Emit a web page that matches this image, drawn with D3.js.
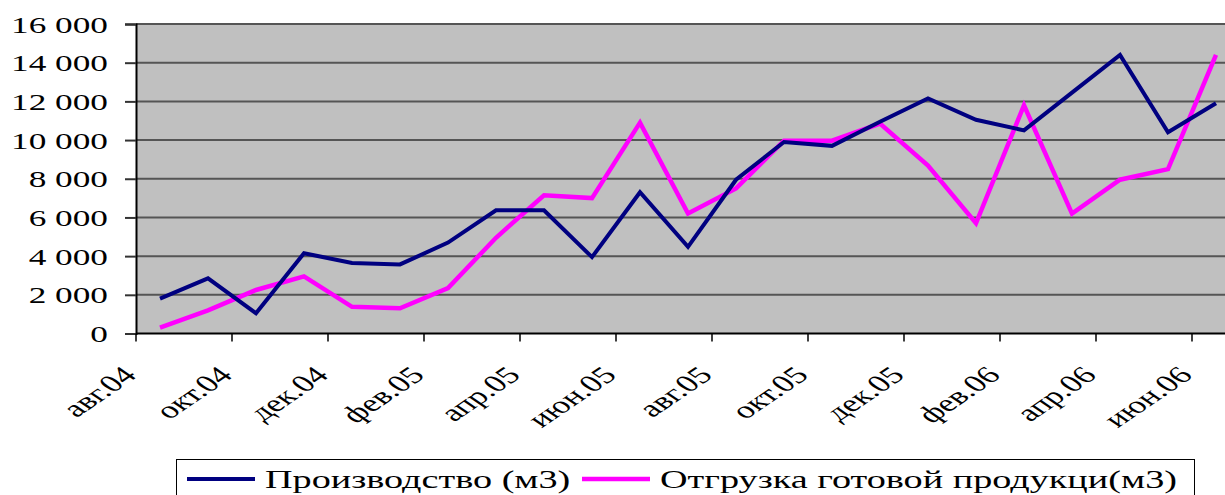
<!DOCTYPE html>
<html><head><meta charset="utf-8">
<script src="https://cdn.jsdelivr.net/npm/d3@7"></script>
<style>
html,body{margin:0;padding:0;background:#fff;}
svg{display:block;}
text{font-family:"Liberation Serif","Times New Roman",serif;fill:#000;}
</style></head>
<body><svg id="c" width="1225" height="495"></svg>
<script>
const categories = ["авг.04","сен.04","окт.04","ноя.04","дек.04","янв.05","фев.05","мар.05","апр.05","май.05","июн.05","июл.05","авг.05","сен.05","окт.05","ноя.05","дек.05","янв.06","фев.06","мар.06","апр.06","май.06","июн.06"];
const production = [1800,2850,1050,4150,3650,3570,4700,6370,6370,3950,7300,4480,7950,9900,9700,10950,12150,11050,10500,12450,14400,10400,11900];
const shipment = [300,1200,2250,2950,1380,1300,2350,4950,7150,7000,10900,6200,7500,9970,9970,10850,8680,5700,11800,6200,7950,8500,14400];
const yTicks = [0,2000,4000,6000,8000,10000,12000,14000,16000];
const seriesNames = ["Производство (м3)","Отгрузка готовой продукци(м3)"];
const seriesColors = ["#000080","#FF00FF"];

const FS = 24, SX = 1.47, LFS = 26;
const widths = [4, 4.5];
const svg = d3.select("#c");
const L = 136, R = 1240, T = 24, B = 333.5;
const x = d3.scaleBand().domain(categories).range([L, R]).padding(0);
const y = d3.scaleLinear().domain([0, 16000]).range([B, T]);
const fmt = v => d3.format(",")(v).replace(/,/g, " ");

// plot background
svg.append("rect").attr("x", L).attr("y", T).attr("width", R - L).attr("height", B - T).attr("fill", "#C0C0C0");

// gridlines
svg.append("g").selectAll("line").data(yTicks.filter(v => v > 0)).join("line")
  .attr("x1", L).attr("x2", R).attr("y1", d => y(d)).attr("y2", d => y(d))
  .attr("stroke", "#555").attr("stroke-width", 2);

// y axis
const yAxis = d3.axisLeft(y).tickValues(yTicks).tickSize(11).tickFormat(fmt);
const gy = svg.append("g").attr("transform", `translate(${L},0)`).call(yAxis);
gy.select(".domain").attr("stroke", "#000").attr("stroke-width", 2);
gy.selectAll(".tick line").attr("stroke", "#333").attr("stroke-width", 2);
gy.selectAll(".tick text").remove();
gy.selectAll(".tick").append("text")
  .attr("transform", `translate(-28,0) scale(${SX},1)`)
  .attr("text-anchor", "end").attr("dy", "0.34em")
  .style("font-size", FS + "px").text(d => fmt(d));

// x axis
const tickCats = categories.filter((c, i) => i % 2 === 0);
const gx = svg.append("g").attr("transform", `translate(0,${B})`);
gx.append("line").attr("x1", L).attr("x2", R).attr("stroke", "#000").attr("stroke-width", 2);
gx.selectAll("line.tk").data(tickCats).join("line").attr("class", "tk")
  .attr("x1", d => x(d)).attr("x2", d => x(d)).attr("y1", 0).attr("y2", 8)
  .attr("stroke", "#000").attr("stroke-width", 1.5);
gx.selectAll("text").data(tickCats).join("text")
  .attr("transform", d => `translate(${x(d) + 2},43) scale(${SX},1) rotate(-45)`)
  .attr("text-anchor", "end").style("font-size", FS + "px").text(d => d);

// lines
const line = d3.line().x(d => x(d.c) + x.bandwidth() / 2).y(d => y(d.v));
const series = [production, shipment];
[1, 0].forEach(si => {
  svg.append("path")
    .datum(categories.map((c, i) => ({c, v: series[si][i]})))
    .attr("d", line).attr("fill", "none")
    .attr("stroke", seriesColors[si]).attr("stroke-width", widths[si])
    .attr("stroke-linejoin", "miter");
});

// legend
const lg = svg.append("g");
lg.append("rect").attr("x", 176.5).attr("y", 459.5).attr("width", 1018).attr("height", 60)
  .attr("fill", "#fff").attr("stroke", "#000").attr("stroke-width", 1);
const lineX = [187, 582], textX = [265, 660];
seriesNames.forEach((n, i) => {
  lg.append("line").attr("x1", lineX[i]).attr("x2", lineX[i] + 68).attr("y1", 479).attr("y2", 479)
    .attr("stroke", seriesColors[i]).attr("stroke-width", widths[i]);
  lg.append("text").attr("transform", `translate(${textX[i]},488) scale(${SX},1)`)
    .style("font-size", LFS + "px").text(n);
});
</script></body></html>
